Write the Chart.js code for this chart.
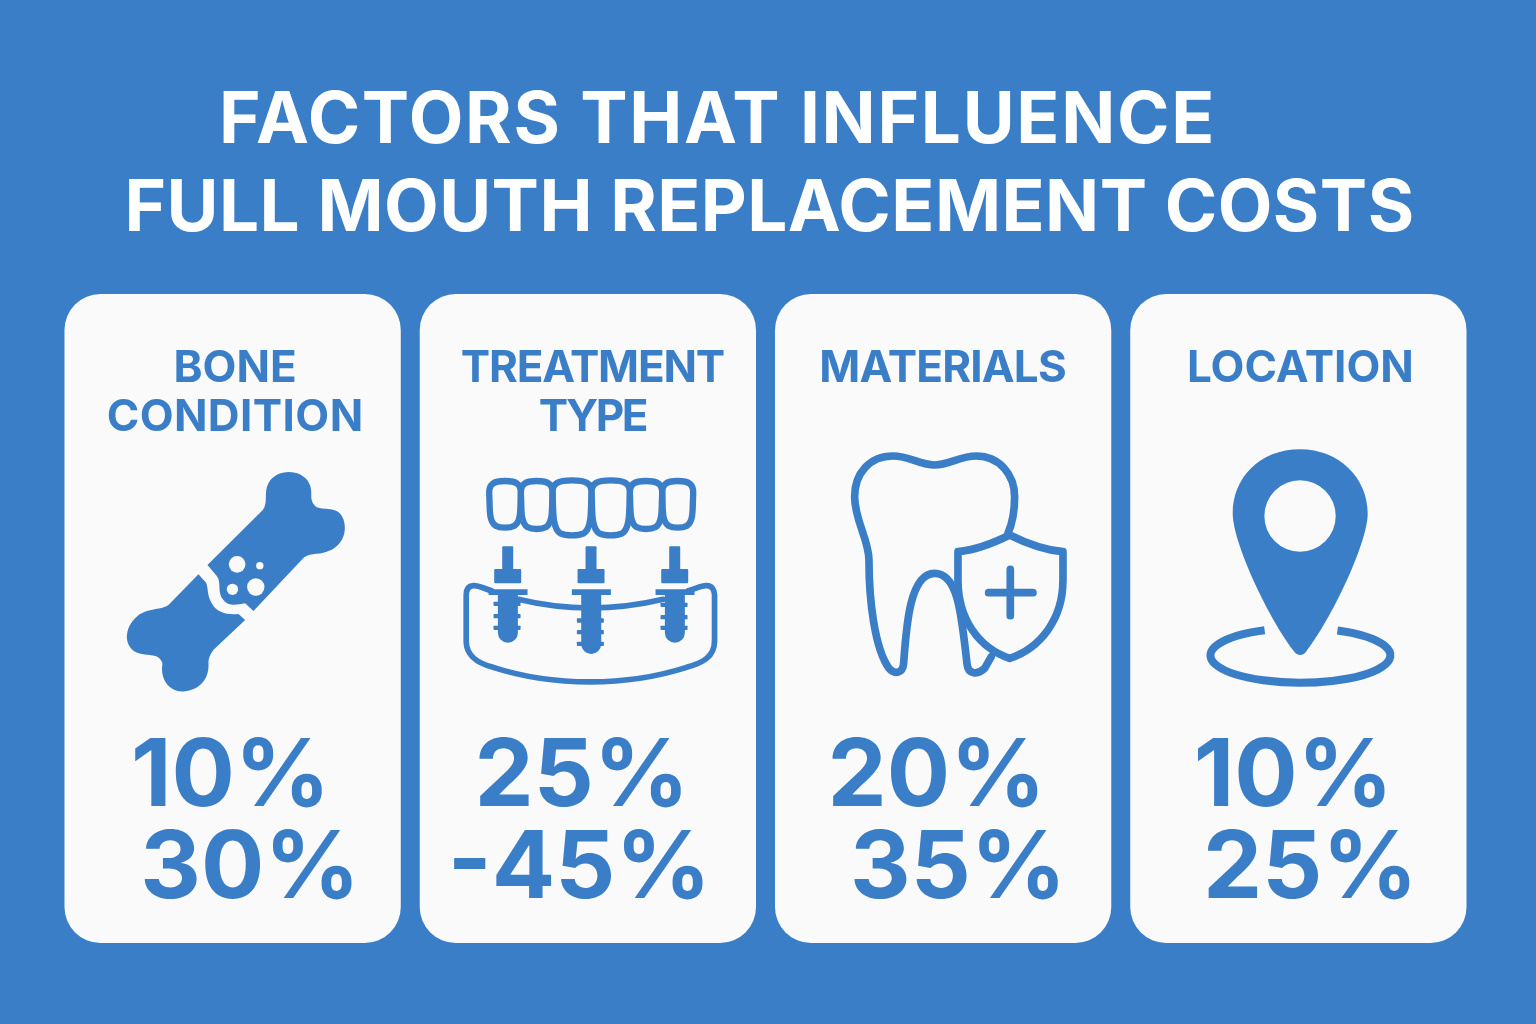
<!DOCTYPE html>
<html>
<head>
<meta charset="utf-8">
<title>Full mouth replacement costs</title>
<script src="https://cdn.jsdelivr.net/npm/chart.js@4"></script>
<style>
    html, body { margin: 0; padding: 0; background: #3b7ec8; }
    canvas { display: block; }
</style>
</head>
<body>
<canvas id="chart" width="1536" height="1024"></canvas>
<script>
const titleLines = ['FACTORS THAT INFLUENCE', 'FULL MOUTH REPLACEMENT COSTS'];
const categories = ['BONE CONDITION', 'TREATMENT TYPE', 'MATERIALS', 'LOCATION'];
const headerLines = [['BONE', 'CONDITION'], ['TREATMENT', 'TYPE'], ['MATERIALS'], ['LOCATION']];
const lowValues = [10, 25, 20, 10];
const highValues = [30, 45, 35, 25];
const highPrefixes = ['', '-', '', ''];
const cardValues = [100, 100, 100, 100];

const BLUE = '#3b7ec8';
const CARD = '#fafafa';

// text offsets from the centre of each card
const headerDx = [2.5, 4.5, -0.5, 2];
const headerSpacing = [[0, 0.4], [-1.2, -2.5], [-0.8], [0]];
const lowDx = [-2, -6, -6.5, -5];
const highDx = [17.5, -8.5, 15, 12];

// each icon is drawn in the 3x coordinates of a crop, dx/dy = crop origin relative to card centre / top
function inCrop(ctx, bar, dx, dy, draw) {
    ctx.save();
    ctx.translate(bar.x + dx, bar.y + dy);
    ctx.scale(1 / 3, 1 / 3);
    ctx.fillStyle = BLUE;
    ctx.strokeStyle = BLUE;
    ctx.lineJoin = 'round';
    draw(ctx);
    ctx.restore();
}

function drawBone(ctx) {
    ctx.beginPath();
    ctx.moveTo(322, 345);
    ctx.lineTo(488, 180);
    ctx.bezierCurveTo(505, 160, 490, 125, 505, 100);
    ctx.bezierCurveTo(528, 55, 605, 55, 627, 100);
    ctx.bezierCurveTo(642, 130, 622, 150, 650, 172);
    ctx.bezierCurveTo(680, 182, 715, 168, 730, 208);
    ctx.bezierCurveTo(745, 255, 718, 295, 680, 305);
    ctx.bezierCurveTo(650, 315, 632, 308, 612, 322);
    ctx.lineTo(460, 483);
    ctx.lineTo(435, 460);
    ctx.bezierCurveTo(410, 465, 385, 470, 370, 450);
    ctx.bezierCurveTo(350, 430, 365, 395, 350, 378);
    ctx.closePath();
    ctx.fill();

    ctx.beginPath();
    ctx.moveTo(295, 373);
    ctx.lineTo(205, 465);
    ctx.bezierCurveTo(180, 482, 135, 472, 105, 505);
    ctx.bezierCurveTo(65, 545, 75, 605, 125, 612);
    ctx.bezierCurveTo(150, 618, 178, 610, 187, 640);
    ctx.bezierCurveTo(178, 695, 215, 730, 255, 724);
    ctx.bezierCurveTo(305, 718, 328, 680, 325, 640);
    ctx.bezierCurveTo(325, 620, 335, 605, 345, 595);
    ctx.lineTo(435, 510);
    ctx.lineTo(415, 492);
    ctx.bezierCurveTo(385, 495, 350, 490, 335, 460);
    ctx.bezierCurveTo(320, 435, 325, 415, 318, 398);
    ctx.closePath();
    ctx.fill();

    ctx.fillStyle = CARD;
    [[411, 343, 25], [479, 347, 11], [397, 418, 17], [467, 411, 26]].forEach(h => {
        ctx.beginPath();
        ctx.arc(h[0], h[1], h[2], 0, Math.PI * 2);
        ctx.fill();
    });
}

function crownTooth(ctx, x0, x1, top, bottom) {
    const w = x1 - x0;
    const mid = x0 + w * 0.5;
    ctx.beginPath();
    ctx.moveTo(mid, top);
    ctx.bezierCurveTo(x0 + w * 0.85, top, x1 + 2, top + 8, x1, top + 40);
    ctx.bezierCurveTo(x1 - 3, top + 80, x1 + 3, bottom - 22, x1 - w * 0.2, bottom - 6);
    ctx.bezierCurveTo(x1 - w * 0.35, bottom + 2, x0 + w * 0.35, bottom + 2, x0 + w * 0.2, bottom - 6);
    ctx.bezierCurveTo(x0 - 3, bottom - 22, x0 + 3, top + 80, x0, top + 40);
    ctx.bezierCurveTo(x0 - 2, top + 8, x0 + w * 0.15, top, mid, top);
    ctx.closePath();
    ctx.stroke();
}

function implant(ctx, cx, bodyBottom, ribs) {
    ctx.beginPath();
    ctx.roundRect(cx - 16, 259, 33, 75, 3);
    ctx.roundRect(cx - 40, 327, 81, 43, 3);
    ctx.rect(cx - 57, 388, 117, 17);
    ctx.fill();
    ctx.beginPath();
    ctx.roundRect(cx - 29, 400, 60, bodyBottom - 400, [0, 0, 30, 30]);
    ctx.fill();
    ribs.forEach(y => {
        ctx.beginPath();
        ctx.roundRect(cx - 42, y, 81, 13, 2);
        ctx.fill();
    });
}

function drawImplants(ctx) {
    ctx.lineWidth = 19;
    crownTooth(ctx, 118, 213, 63, 203);
    crownTooth(ctx, 213, 308, 63, 207);
    crownTooth(ctx, 308, 425, 61, 226);
    crownTooth(ctx, 425, 540, 61, 226);
    crownTooth(ctx, 540, 637, 63, 207);
    crownTooth(ctx, 637, 730, 63, 203);

    ctx.lineWidth = 17;
    ctx.lineCap = 'round';
    ctx.beginPath();
    ctx.moveTo(125, 392);
    ctx.bezierCurveTo(100, 385, 85, 375, 70, 377);
    ctx.bezierCurveTo(55, 378, 49, 390, 49, 405);
    ctx.lineTo(49, 545);
    ctx.bezierCurveTo(50, 590, 85, 610, 130, 622);
    ctx.bezierCurveTo(310, 680, 530, 680, 710, 622);
    ctx.bezierCurveTo(760, 608, 793, 590, 794, 545);
    ctx.lineTo(794, 405);
    ctx.bezierCurveTo(794, 390, 785, 376, 770, 377);
    ctx.bezierCurveTo(755, 376, 740, 385, 715, 392);
    ctx.stroke();
    ctx.beginPath();
    ctx.moveTo(205, 418);
    ctx.quadraticCurveTo(420, 470, 640, 418);
    ctx.stroke();

    implant(ctx, 173, 548, [425, 462, 497]);
    implant(ctx, 423, 582, [475, 510, 545]);
    implant(ctx, 674, 548, [428, 465, 497]);
}

function drawToothShield(ctx) {
    ctx.lineWidth = 23;
    ctx.lineCap = 'round';
    ctx.beginPath();
    ctx.moveTo(315, 75);
    ctx.bezierCurveTo(270, 75, 240, 48, 190, 48);
    ctx.bezierCurveTo(120, 48, 75, 100, 75, 170);
    ctx.bezierCurveTo(75, 240, 118, 300, 118, 360);
    ctx.bezierCurveTo(118, 480, 135, 625, 178, 685);
    ctx.bezierCurveTo(195, 705, 220, 700, 222, 670);
    ctx.bezierCurveTo(230, 560, 240, 400, 315, 400);
    ctx.bezierCurveTo(385, 400, 395, 520, 412, 670);
    ctx.bezierCurveTo(415, 705, 445, 705, 465, 685);
    ctx.lineTo(485, 650);
    ctx.moveTo(315, 75);
    ctx.bezierCurveTo(360, 75, 390, 48, 440, 48);
    ctx.bezierCurveTo(510, 48, 555, 105, 555, 170);
    ctx.bezierCurveTo(555, 210, 548, 250, 535, 280);
    ctx.stroke();

    ctx.beginPath();
    ctx.moveTo(540, 285);
    ctx.bezierCurveTo(490, 310, 440, 330, 385, 335);
    ctx.lineTo(385, 420);
    ctx.bezierCurveTo(385, 540, 450, 625, 540, 655);
    ctx.bezierCurveTo(630, 625, 700, 540, 700, 420);
    ctx.lineTo(700, 335);
    ctx.bezierCurveTo(640, 330, 590, 310, 540, 285);
    ctx.closePath();
    ctx.fillStyle = CARD;
    ctx.fill();
    ctx.stroke();

    ctx.beginPath();
    ctx.moveTo(477, 458);
    ctx.lineTo(610, 458);
    ctx.moveTo(542, 388);
    ctx.lineTo(542, 527);
    ctx.stroke();
}

function drawPin(ctx) {
    ctx.beginPath();
    ctx.moveTo(332, 28);
    ctx.bezierCurveTo(210, 28, 130, 115, 130, 220);
    ctx.bezierCurveTo(130, 310, 240, 540, 315, 635);
    ctx.bezierCurveTo(325, 648, 340, 648, 350, 635);
    ctx.bezierCurveTo(425, 540, 535, 310, 535, 220);
    ctx.bezierCurveTo(535, 115, 450, 28, 332, 28);
    ctx.closePath();
    ctx.moveTo(439, 228);
    ctx.arc(332, 228, 107, 0, Math.PI * 2, true);
    ctx.fill('evenodd');

    ctx.lineWidth = 24;
    ctx.beginPath();
    ctx.ellipse(333, 646, 270, 82, 0, -65.7 * Math.PI / 180, -113.4 * Math.PI / 180);
    ctx.stroke();
}

const iconDraws = [
    [-132.5, 156, drawBone],
    [-138, 166, drawImplants],
    [-113.5, 146, drawToothShield],
    [-109, 146, drawPin],
];

const cardTextPlugin = {
    id: 'cardText',
    afterDatasetsDraw(chart) {
        const ctx = chart.ctx;
        const bars = chart.getDatasetMeta(0).data;
        ctx.save();
        ctx.textAlign = 'center';
        ctx.textBaseline = 'alphabetic';

        ctx.fillStyle = '#ffffff';
        ctx.font = '700 71px Inter';
        ctx.letterSpacing = '1.7px';
        ctx.fillText(titleLines[0], 717.5, 143);
        ctx.letterSpacing = '0.45px';
        ctx.fillText(titleLines[1], 769.5, 231);

        bars.forEach((bar, i) => {
            ctx.fillStyle = BLUE;
            ctx.font = '700 44px Inter';
            headerLines[i].forEach((line, j) => {
                ctx.letterSpacing = headerSpacing[i][j] + 'px';
                ctx.fillText(line, bar.x + headerDx[i], bar.y + 88 + j * 49);
            });

            ctx.letterSpacing = '0px';
            ctx.font = '700 94px Inter';
            ctx.fillText(lowValues[i] + '%', bar.x + lowDx[i], bar.y + 512);
            ctx.fillText(highPrefixes[i] + highValues[i] + '%', bar.x + highDx[i], bar.y + 604);

            const icon = iconDraws[i];
            inCrop(ctx, bar, icon[0], icon[1], icon[2]);
        });
        ctx.restore();
    },
};

new Chart(document.getElementById('chart'), {
    type: 'bar',
    data: {
        labels: categories,
        datasets: [{
            label: 'Card',
            data: cardValues,
            backgroundColor: CARD,
            borderWidth: 0,
            borderRadius: 36,
            borderSkipped: false,
            categoryPercentage: 0.9466,
            barPercentage: 1,
        }],
    },
    options: {
        responsive: false,
        animation: false,
        devicePixelRatio: 1,
        layout: { padding: { left: 55, right: 60, top: 294, bottom: 81 } },
        scales: {
            x: { display: false },
            y: { display: false, min: 0, max: 100 },
        },
        plugins: {
            legend: { display: false },
            tooltip: { enabled: false },
        },
    },
    plugins: [cardTextPlugin],
});
</script>
</body>
</html>
